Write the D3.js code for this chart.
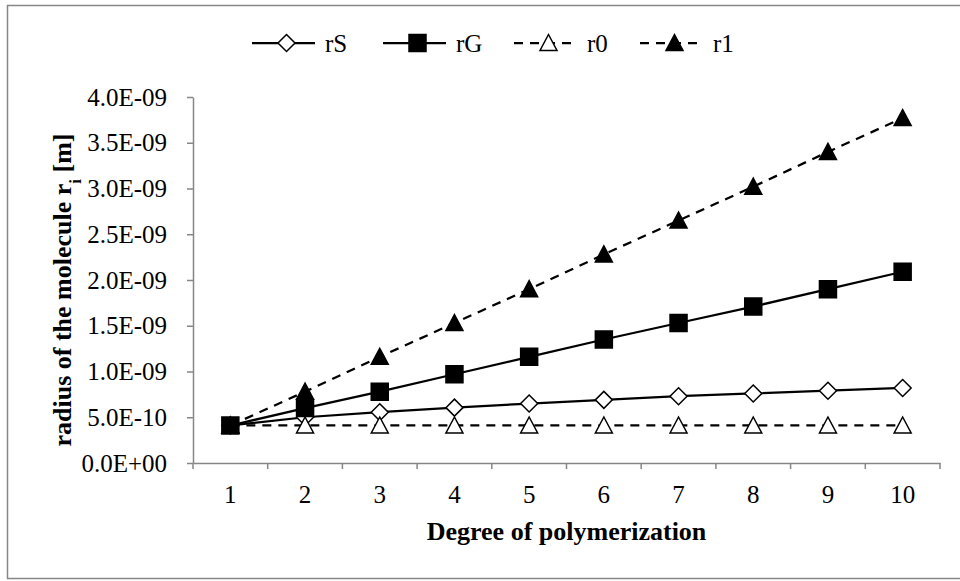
<!DOCTYPE html>
<html>
<head>
<meta charset="utf-8">
<script src="https://cdn.jsdelivr.net/npm/d3@7"></script>
<style>
body { margin: 0; background: #fff; }
text { font-family: "Liberation Serif", "Times New Roman", serif; fill: #000; }
</style>
</head>
<body>
<svg id="chart" width="960" height="581"></svg>
<script>
// data
var degrees = [1, 2, 3, 4, 5, 6, 7, 8, 9, 10];
var rS = [4.1e-10, 5.0e-10, 5.55e-10, 6.05e-10, 6.5e-10, 6.9e-10, 7.3e-10, 7.6e-10, 7.9e-10, 8.2e-10];
var rG = [4.1e-10, 6.0e-10, 7.8e-10, 9.7e-10, 1.16e-9, 1.35e-9, 1.53e-9, 1.71e-9, 1.90e-9, 2.09e-9];
var r0 = [4.1e-10, 4.1e-10, 4.1e-10, 4.1e-10, 4.1e-10, 4.1e-10, 4.1e-10, 4.1e-10, 4.1e-10, 4.1e-10];
var r1 = [4.1e-10, 7.8e-10, 1.16e-9, 1.53e-9, 1.90e-9, 2.28e-9, 2.65e-9, 3.02e-9, 3.40e-9, 3.77e-9];
var yTicks = [0, 5e-10, 1e-9, 1.5e-9, 2e-9, 2.5e-9, 3e-9, 3.5e-9, 4e-9];

var series = [
	{ name: "rS", values: rS, marker: "diamond", filled: false, dashed: false },
	{ name: "rG", values: rG, marker: "square", filled: true, dashed: false },
	{ name: "r0", values: r0, marker: "triangle", filled: false, dashed: true },
	{ name: "r1", values: r1, marker: "triangle", filled: true, dashed: true }
];

var plotLeft = 193, plotRight = 940, plotTop = 97, plotBottom = 463;
var axisColor = "#868686";

var svg = d3.select("#chart");

// outer frame
svg.append("rect")
	.attr("x", 7.5).attr("y", 5.5)
	.attr("width", 1000).attr("height", 573)
	.attr("fill", "none")
	.attr("stroke", axisColor)
	.attr("stroke-width", 1.5);

var x = d3.scaleBand().domain(degrees).range([plotLeft, plotRight]).paddingInner(0).paddingOuter(0);
var y = d3.scaleLinear().domain([0, 4e-9]).range([plotBottom, plotTop]);

function cx(d) { return x(d) + x.bandwidth() / 2; }

function sciFmt(v) {
	var parts = d3.format(".1e")(v).split("e");
	var e = +parts[1];
	var a = Math.abs(e);
	return parts[0] + "E" + (e < 0 ? "-" : "+") + (a < 10 ? "0" : "") + a;
}

// y axis
var gy = svg.append("g")
	.attr("transform", "translate(" + plotLeft + ",0)")
	.call(d3.axisLeft(y).tickValues(yTicks).tickFormat(sciFmt).tickSize(6).tickSizeOuter(0).tickPadding(20));
gy.select(".domain").attr("stroke", axisColor).attr("stroke-width", 1.5);
gy.selectAll(".tick line").attr("stroke", axisColor).attr("stroke-width", 1.5);
gy.selectAll(".tick text").style("font-size", "25px").attr("fill", "#000");

// x axis: labels centred on categories, ticks between them
var gx = svg.append("g")
	.attr("transform", "translate(0," + plotBottom + ")")
	.call(d3.axisBottom(x).tickSize(0).tickPadding(22));
gx.select(".domain").attr("stroke", axisColor).attr("stroke-width", 1.5);
gx.selectAll(".tick text").style("font-size", "25px").attr("fill", "#000");

var bounds = degrees.map(function (d) { return x(d); }).concat([x.range()[1]]);
gx.selectAll(".bound")
	.data(bounds)
	.enter().append("line")
	.attr("class", "bound")
	.attr("x1", function (d) { return d; })
	.attr("x2", function (d) { return d; })
	.attr("y1", 0).attr("y2", 6)
	.attr("stroke", axisColor)
	.attr("stroke-width", 1.5);

// axis titles
svg.append("text")
	.attr("x", (plotLeft + plotRight) / 2)
	.attr("y", 540)
	.attr("text-anchor", "middle")
	.style("font-size", "26px")
	.style("font-weight", "bold")
	.text("Degree of polymerization");

var yt = svg.append("text")
	.attr("transform", "translate(71,290) rotate(-90)")
	.attr("text-anchor", "middle")
	.style("font-size", "26px")
	.style("font-weight", "bold");
yt.append("tspan").text("radius of the molecule r");
yt.append("tspan").attr("baseline-shift", "sub").style("font-size", "17px").text("i");
yt.append("tspan").text(" [m]");

// markers
function markerPath(type) {
	var h = 8.5;
	if (type === "diamond") return "M0," + (-h) + "L" + h + ",0L0," + h + "L" + (-h) + ",0Z";
	if (type === "square") return "M" + (-h) + "," + (-h) + "H" + h + "V" + h + "H" + (-h) + "Z";
	return "M0," + (-h) + "L" + h + "," + (h - 1) + "L" + (-h) + "," + (h - 1) + "Z";
}

function drawMarker(g, s) {
	g.append("path")
		.attr("d", markerPath(s.marker))
		.attr("fill", s.filled ? "#000" : "#fff")
		.attr("stroke", "#000")
		.attr("stroke-width", 1.5);
}

var line = d3.line()
	.x(function (d, i) { return cx(degrees[i]); })
	.y(function (d) { return y(d); });

series.forEach(function (s) {
	var g = svg.append("g");
	g.append("path")
		.datum(s.values)
		.attr("fill", "none")
		.attr("stroke", "#000")
		.attr("stroke-width", 2.25)
		.attr("stroke-dasharray", s.dashed ? "9,7" : null)
		.attr("d", line);
	g.selectAll(".pt")
		.data(s.values)
		.enter().append("g")
		.attr("class", "pt")
		.attr("transform", function (d, i) { return "translate(" + cx(degrees[i]) + "," + y(d) + ")"; })
		.each(function () { drawMarker(d3.select(this), s); });
});

// legend
var legendStarts = [252, 383, 514, 640];
var legendY = 43;
series.forEach(function (s, i) {
	var g = svg.append("g").attr("transform", "translate(" + legendStarts[i] + "," + legendY + ")");
	g.append("line")
		.attr("x1", 0).attr("x2", 63)
		.attr("y1", 0).attr("y2", 0)
		.attr("stroke", "#000")
		.attr("stroke-width", 2.25)
		.attr("stroke-dasharray", s.dashed ? "9,7" : null);
	var m = g.append("g").attr("transform", "translate(34.5,0)");
	drawMarker(m, s);
	g.append("text")
		.attr("x", 73)
		.attr("dy", "0.35em")
		.style("font-size", "25px")
		.text(s.name);
});
</script>
</body>
</html>
